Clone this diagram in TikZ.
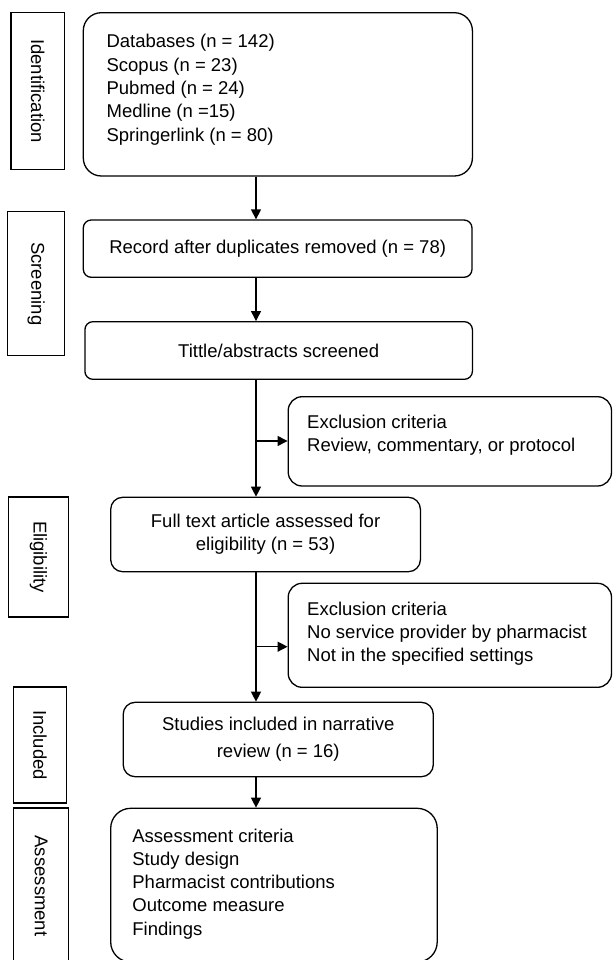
\documentclass[tikz,border=0pt]{standalone}
\usepackage{fontspec}
\setmainfont{Liberation Sans}
\usetikzlibrary{arrows.meta}
\begin{document}
\begin{tikzpicture}[x=1pt,y=-1pt,
  every node/.style={font=\fontsize{18.5}{23.3}\selectfont},
  lab/.style={draw, line width=1.3pt, inner sep=0pt},
  box/.style={draw, line width=1.3pt, inner sep=0pt, align=center},
  txt/.style={inner sep=0pt, align=left, anchor=north west},
  arr/.style={line width=1.3pt, -{Triangle[length=10pt,width=10pt]}}]
\useasboundingbox (0,0) rectangle (613,960);
% stage labels
\node[lab, minimum width=53.5pt, minimum height=156.6pt] (lid) at (37.75,91) {\rotatebox{-90}{Identification}};
\node[lab, minimum width=56.7pt, minimum height=144pt] (lsc) at (36.15,283.7) {\rotatebox{-90}{Screening}};
\node[lab, minimum width=59.8pt, minimum height=120pt] (lel) at (38.5,557) {\rotatebox{-90}{Eligibility}};
\node[lab, minimum width=52.8pt, minimum height=116pt] (lin) at (40.1,745) {\rotatebox{-90}{Included}};
\node[lab, minimum width=54.7pt, minimum height=156pt] (las) at (41.05,886) {\rotatebox{-90}{Assessment}};
% boxes
\node[box, rounded corners=18pt, minimum width=389.1pt, minimum height=163.3pt] (b1) at (277.85,94.35) {};
\node[box, rounded corners=8pt, minimum width=388.7pt, minimum height=57.3pt] (b2) at (277.65,248.65) {Record after duplicates removed (n = 78)};
\node[box, rounded corners=8pt, minimum width=387.5pt, minimum height=57.6pt] (b3) at (278.65,350.5) {Tittle/abstracts screened};
\node[box, rounded corners=14pt, minimum width=323.3pt, minimum height=89.3pt] (ex1) at (449.85,441.35) {};
\node[box, rounded corners=12pt, minimum width=309.7pt, minimum height=74.4pt] (b4) at (265.55,534.5) {Full text article assessed for\\eligibility (n = 53)};
\node[box, rounded corners=14pt, minimum width=323.3pt, minimum height=104pt] (ex2) at (449.85,635.3) {};
\node[box, rounded corners=12pt, minimum width=310.1pt, minimum height=74.4pt, font=\fontsize{18.5}{26.6}\selectfont] (b5) at (278.25,739.5) {Studies included in narrative\\review (n = 16)};
\node[box, rounded corners=20pt, minimum width=326.5pt, minimum height=153.7pt] (b6) at (273.95,885.15) {};
% texts in boxes
\node[txt] (t1) at (106.4,34.2) {Databases (n = 142)\\Scopus (n = 23)\\Pubmed (n = 24)\\Medline (n =15)\\Springerlink (n = 80)};
\node[txt] (te1) at (307,415.0) {Exclusion criteria\\Review, commentary, or protocol};
\node[txt] (te2) at (307,601.7) {Exclusion criteria\\No service provider by pharmacist\\Not in the specified settings};
\node[txt] (t6) at (132.2,828.4) {Assessment criteria\\Study design\\Pharmacist contributions\\Outcome measure\\Findings};
% connectors
\coordinate (sp) at (256,0);
\coordinate (j1) at (256,441);
\coordinate (j2) at (256,646.7);
\draw[arr] (b1.south -| sp) -- (b2.north -| sp);
\draw[arr] (b2.south -| sp) -- (b3.north -| sp);
\draw[arr] (b3.south -| sp) -- (b4.north -| sp);
\draw[arr] (j1) -- (j1 -| ex1.west);
\draw[arr] (b4.south -| sp) -- (b5.north -| sp);
\draw[arr] (j2) -- (j2 -| ex2.west);
\draw[arr] (b5.south -| sp) -- (b6.north -| sp);
\end{tikzpicture}
\end{document}
